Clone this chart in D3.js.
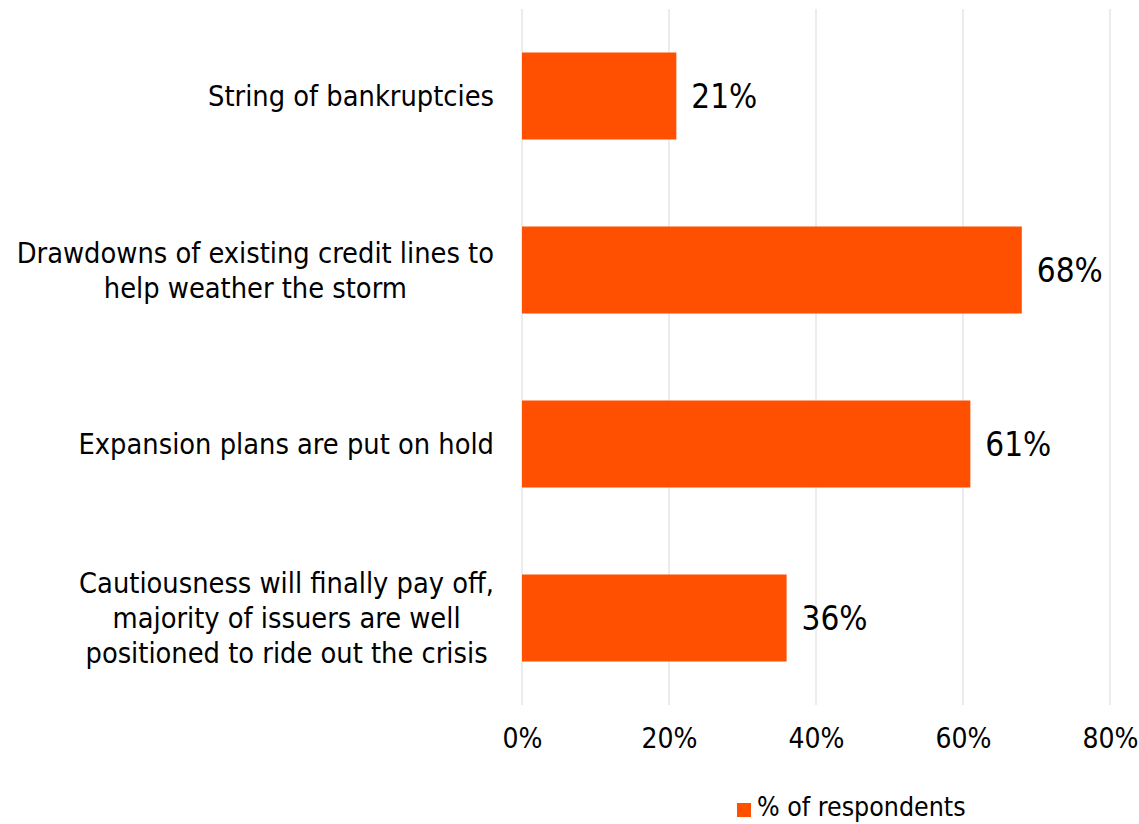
<!DOCTYPE html>
<html>
<head>
<meta charset="utf-8">
<script src="https://cdn.jsdelivr.net/npm/d3@7"></script>
<style>
  html, body { margin: 0; padding: 0; background: #fff; }
  svg text { font-family: "DejaVu Sans Condensed", "DejaVu Sans", sans-serif; fill: #000; }
</style>
</head>
<body>
<svg id="chart" width="1139" height="824"></svg>
<script>
// Survey answers, top to bottom
const categories = [
  ["String of bankruptcies"],
  ["Drawdowns of existing credit lines to", "help weather the storm"],
  ["Expansion plans are put on hold"],
  ["Cautiousness will finally pay off,", "majority of issuers are well", "positioned to ride out the crisis"]
];
const values = [21, 68, 61, 36];
const ticks = [0, 20, 40, 60, 80];
const seriesName = "% of respondents";

const svg = d3.select("#chart");
const barColor = "#FE5000";

const x = d3.scaleLinear().domain([0, 80]).range([522, 1110]);
const y = d3.scaleBand().domain(d3.range(categories.length)).range([9, 705]).paddingInner(0.5).paddingOuter(0.25);

// vertical gridlines
svg.append("g").selectAll("line").data(ticks).join("line")
  .attr("x1", d => x(d)).attr("x2", d => x(d))
  .attr("y1", 9).attr("y2", 705)
  .attr("stroke", "#d9d9d9").attr("stroke-width", 1);

// x axis tick labels
const xAxis = d3.axisBottom(x).tickValues(ticks).tickFormat(d => d + "%").tickSize(0).tickPadding(0);
const ax = svg.append("g").attr("transform", "translate(0,728)").call(xAxis);
ax.select(".domain").remove();
ax.selectAll("text").attr("font-size", 28).attr("dy", "0.71em")
  .style("font-family", "\"DejaVu Sans Condensed\", \"DejaVu Sans\", sans-serif").attr("fill", "#000");

// bars
svg.append("g").selectAll("rect").data(values).join("rect")
  .attr("x", x(0)).attr("y", (d, i) => y(i))
  .attr("width", d => x(d) - x(0)).attr("height", y.bandwidth())
  .attr("fill", barColor);

// value labels
svg.append("g").selectAll("text").data(values).join("text")
  .attr("x", d => x(d) + 15).attr("y", (d, i) => y(i) + y.bandwidth() / 2)
  .attr("dy", "0.36em").attr("font-size", 33)
  .text(d => d + "%");

// category labels: block right-aligned, lines centred within block
const lineH = 35;
const catG = svg.append("g");
categories.forEach((lines, i) => {
  const cy = y(i) + y.bandwidth() / 2;
  const g = catG.append("g");
  const ts = g.selectAll("text").data(lines).join("text")
    .attr("font-size", 28.7).attr("text-anchor", "middle")
    .attr("y", (d, j) => cy + (j - (lines.length - 1) / 2) * lineH)
    .attr("dy", "0.35em")
    .text(d => d);
  let maxW = 0;
  ts.each(function() { maxW = Math.max(maxW, this.getComputedTextLength()); });
  ts.attr("x", 494 - maxW / 2);
});

// legend
const lg = svg.append("g");
lg.append("rect").attr("x", 737).attr("y", 803).attr("width", 14).attr("height", 14).attr("fill", barColor);
lg.append("text").attr("x", 757).attr("y", 816).attr("font-size", 26.5).text(seriesName);
</script>
</body>
</html>
